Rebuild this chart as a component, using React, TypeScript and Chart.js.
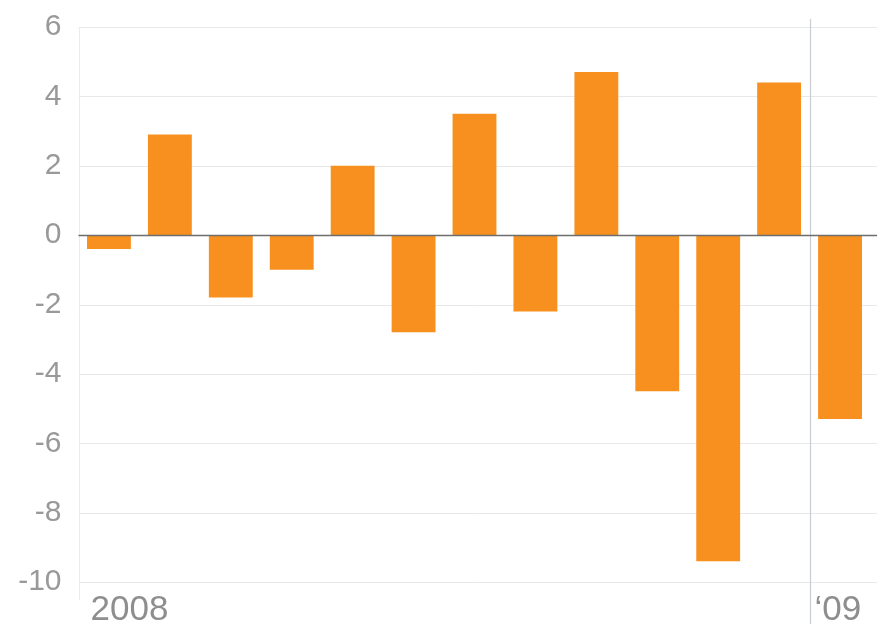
import React, { useEffect, useRef } from "react";
import { Chart, registerables } from "chart.js";

Chart.register(...registerables);

const months = ["Jan 2008", "Feb", "Mar", "Apr", "May", "Jun", "Jul", "Aug", "Sep", "Oct", "Nov", "Dec", "Jan 2009"];
const values = [-0.4, 2.9, -1.8, -1.0, 2.0, -2.8, 3.5, -2.2, 4.7, -4.5, -9.4, 4.4, -5.3];
const yTicks = [-10, -8, -6, -4, -2, 0, 2, 4, 6];
const xLabels = ["2008", "", "", "", "", "", "", "", "", "", "", "", "\u201809"];
const yearStartIndex = 12;

const FONT = "'Liberation Sans', Arial, sans-serif";

export default function App() {
  const ref = useRef<HTMLCanvasElement | null>(null);
  useEffect(() => {
    document.body.style.margin = "0";
    const canvas = ref.current!;
    const decor = {
      id: "decor",
      beforeDatasetsDraw(chart: any) {
        const { ctx, chartArea, scales } = chart;
        const y = scales.y;
        const x = scales.x;
        ctx.save();
        yTicks.forEach((t) => {
          if (t === 0) return;
          const py = Math.round(y.getPixelForValue(t)) + 0.5;
          ctx.strokeStyle = "#e8e8e8";
          ctx.lineWidth = 1;
          ctx.beginPath();
          ctx.moveTo(chartArea.left, py);
          ctx.lineTo(chart.width, py);
          ctx.stroke();
        });
        ctx.strokeStyle = "#ebebeb";
        ctx.beginPath();
        ctx.moveTo(Math.round(chartArea.left) + 0.5, chartArea.top);
        ctx.lineTo(Math.round(chartArea.left) + 0.5, chartArea.bottom + 18);
        ctx.stroke();
        const half = (x.getPixelForValue(1) - x.getPixelForValue(0)) / 2;
        const sx = Math.round(x.getPixelForValue(yearStartIndex) - half) + 0.5;
        ctx.strokeStyle = "#c9cdd4";
        ctx.lineWidth = 1.2;
        ctx.beginPath();
        ctx.moveTo(sx, chartArea.top - 8);
        ctx.lineTo(sx, chart.height);
        ctx.stroke();
        ctx.restore();
      },
      afterDatasetsDraw(chart: any) {
        const { ctx, chartArea, scales } = chart;
        const y = scales.y;
        const x = scales.x;
        ctx.save();
        const pz = Math.round(y.getPixelForValue(0)) + 0.5;
        ctx.strokeStyle = "#6e6e6e";
        ctx.lineWidth = 1.3;
        ctx.beginPath();
        ctx.moveTo(chartArea.left, pz);
        ctx.lineTo(chart.width, pz);
        ctx.stroke();
        const half = (x.getPixelForValue(1) - x.getPixelForValue(0)) / 2;
        ctx.fillStyle = "#8e8e8e";
        ctx.font = `35px ${FONT}`;
        ctx.textAlign = "left";
        ctx.textBaseline = "alphabetic";
        xLabels.forEach((lab, i) => {
          if (!lab) return;
          const px = x.getPixelForValue(i) - half + (i === 0 ? 12 : 5);
          ctx.fillText(lab, px, chartArea.bottom + 38);
        });
        ctx.restore();
      },
    };
    const chart = new Chart(canvas, {
      type: "bar",
      data: {
        labels: months,
        datasets: [
          {
            data: values,
            backgroundColor: "#f7901e",
            borderWidth: 0,
            barPercentage: 0.72,
            categoryPercentage: 1,
          },
        ],
      },
      options: {
        animation: false,
        responsive: false,
        maintainAspectRatio: false,
        layout: { padding: { top: 27, bottom: 42, right: 6.5, left: 0 } },
        plugins: { legend: { display: false }, tooltip: { enabled: false } },
        scales: {
          x: {
            type: "category",
            offset: true,
            display: false,
            grid: { display: false },
          },
          y: {
            min: -10,
            max: 6,
            afterFit(scale: any) {
              scale.width = 78.5;
            },
            afterBuildTicks(scale: any) {
              scale.ticks = yTicks.map((v) => ({ value: v }));
            },
            border: { display: false },
            grid: { display: false },
            ticks: {
              color: "#999999",
              font: { size: 30, family: FONT },
              padding: 9,
            },
          },
        },
      },
      plugins: [decor],
    });
    return () => chart.destroy();
  }, []);
  return <canvas ref={ref} width={877} height={624} style={{ display: "block" }} />;
}
